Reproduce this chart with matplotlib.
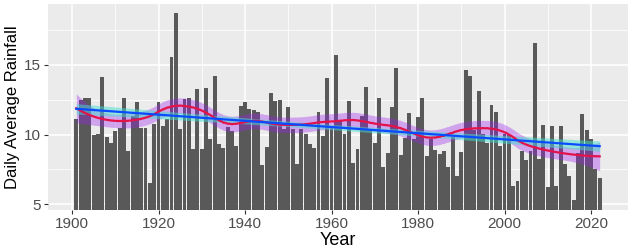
import numpy as np
import matplotlib
matplotlib.use("Agg")
import matplotlib.pyplot as plt

# Daily average rainfall per year
years = np.arange(1901, 2023)
rainfall = [
    11.1, 12.5, 12.6, 12.6, 10.0, 10.05, 14.1, 9.8, 9.4, 10.25,      # 1901-1910
    10.5, 12.6, 8.8, 11.3, 12.35, 10.5, 10.5, 6.55, 10.75, 12.35,    # 1911-1920
    10.65, 11.15, 15.55, 18.7, 10.4, 12.55, 12.6, 9.0, 13.25, 8.95,  # 1921-1930
    13.35, 9.65, 14.2, 9.35, 9.05, 10.55, 10.25, 9.2, 12.05, 12.3,   # 1931-1940
    11.85, 11.75, 11.6, 7.8, 9.1, 12.95, 12.4, 12.5, 10.4, 11.95,    # 1941-1950
    10.4, 7.9, 10.4, 10.05, 9.3, 9.05, 11.6, 9.9, 14.05, 10.5,       # 1951-1960
    15.7, 10.95, 10.05, 12.4, 8.0, 8.95, 11.3, 13.4, 10.3, 9.4,      # 1961-1970
    12.65, 7.65, 8.65, 12.0, 14.75, 8.55, 9.75, 11.55, 9.7, 11.25,   # 1971-1980
    12.6, 8.5, 9.7, 8.9, 8.6, 8.8, 7.7, 9.8, 7.05, 8.75,             # 1981-1990
    14.6, 14.2, 10.3, 13.1, 10.05, 9.4, 12.1, 11.6, 9.2, 10.05,      # 1991-2000
    10.0, 6.35, 6.7, 8.8, 8.2, 8.85, 16.55, 8.25, 10.7, 6.25,        # 2001-2010
    10.65, 6.35, 10.65, 7.9, 7.0, 5.35, 8.65, 11.5, 10.35, 9.7,      # 2011-2020
    7.55, 6.9,                                                       # 2021-2022
]

x_breaks = [1900, 1920, 1940, 1960, 1980, 2000, 2020]
y_breaks = [5, 10, 15]


def loess_fit(x, y, x_new, span=0.32):
    """Local quadratic regression (tricube weights), returns fit and smoother rows"""
    n = len(x)
    q = int(np.floor(n * span))
    rows = []
    for x0 in x_new:
        d = np.abs(x - x0)
        h = np.sort(d)[q - 1]
        w = np.clip(1 - (d / h) ** 3, 0, None) ** 3
        X = np.column_stack([np.ones(n), x - x0, (x - x0) ** 2])
        XtW = X.T * w
        rows.append(np.linalg.solve(XtW @ X, XtW)[0])
    L = np.array(rows)
    return L @ y, L


x = years.astype(float)
y = np.array(rainfall)
xs = np.linspace(x.min(), x.max(), 300)
z = 0.95  # band half-width multiplier (bands in the reference are narrow)

# loess curve + band
fit_s, L_s = loess_fit(x, y, xs)
_, L_d = loess_fit(x, y, x)
R = np.eye(len(x)) - L_d
delta1 = np.trace(R.T @ R)
sigma = np.sqrt(np.sum((R @ y) ** 2) / delta1)
se_s = sigma * np.sqrt(np.sum(L_s ** 2, axis=1))
lo_s, hi_s = fit_s - z * se_s, fit_s + z * se_s

# linear fit + band
X = np.column_stack([np.ones_like(x), x])
beta, *_ = np.linalg.lstsq(X, y, rcond=None)
res = y - X @ beta
s2 = np.sum(res ** 2) / (len(x) - 2)
Xs = np.column_stack([np.ones_like(xs), xs])
cov = s2 * np.linalg.inv(X.T @ X)
fit_l = Xs @ beta
se_l = np.sqrt(np.einsum('ij,jk,ik->i', Xs, cov, Xs))
lo_l, hi_l = fit_l - z * se_l, fit_l + z * se_l

plt.rcParams['font.family'] = ['Liberation Sans', 'DejaVu Sans']

fig = plt.figure(figsize=(6.34, 2.52), dpi=100)
ax = fig.add_axes([48 / 634, 42 / 252, 580 / 634, 206 / 252])
ax.set_facecolor('#EBEBEB')

ax.bar(years, y, width=0.9, color='#595959', zorder=2)

ax.fill_between(xs, lo_s, hi_s, color='#A020F0', alpha=0.35, lw=0, zorder=3)
ax.fill_between(xs, lo_l, hi_l, color='#40E0D0', alpha=0.5, lw=0, zorder=4)
ax.plot(xs, fit_s, color='#E3124B', lw=1.6, zorder=5)
ax.plot(xs, fit_l, color='#0A4BFF', lw=1.6, zorder=6)

ax.set_xlim(1894.45, 2028.55)
ax.set_ylim(4.6, 19.35)
ax.set_xticks(x_breaks)
ax.set_yticks(y_breaks)
ax.set_xticks(np.arange(1910, 2020, 20), minor=True)
ax.set_yticks([7.5, 12.5, 17.5], minor=True)
ax.grid(which='major', color='white', lw=1.1, zorder=0)
ax.grid(which='minor', color='white', lw=0.55, zorder=0)
ax.set_axisbelow(True)
for sp in ax.spines.values():
    sp.set_visible(False)
ax.tick_params(which='major', length=3, width=0.8, color='#333333',
               labelcolor='#4D4D4D', labelsize=11, pad=2)
ax.tick_params(which='minor', length=0)

ax.set_xlabel('Year', fontsize=13, labelpad=1)
ax.set_ylabel('Daily Average Rainfall', fontsize=12, labelpad=3)

fig.savefig('out.png', dpi=100)
